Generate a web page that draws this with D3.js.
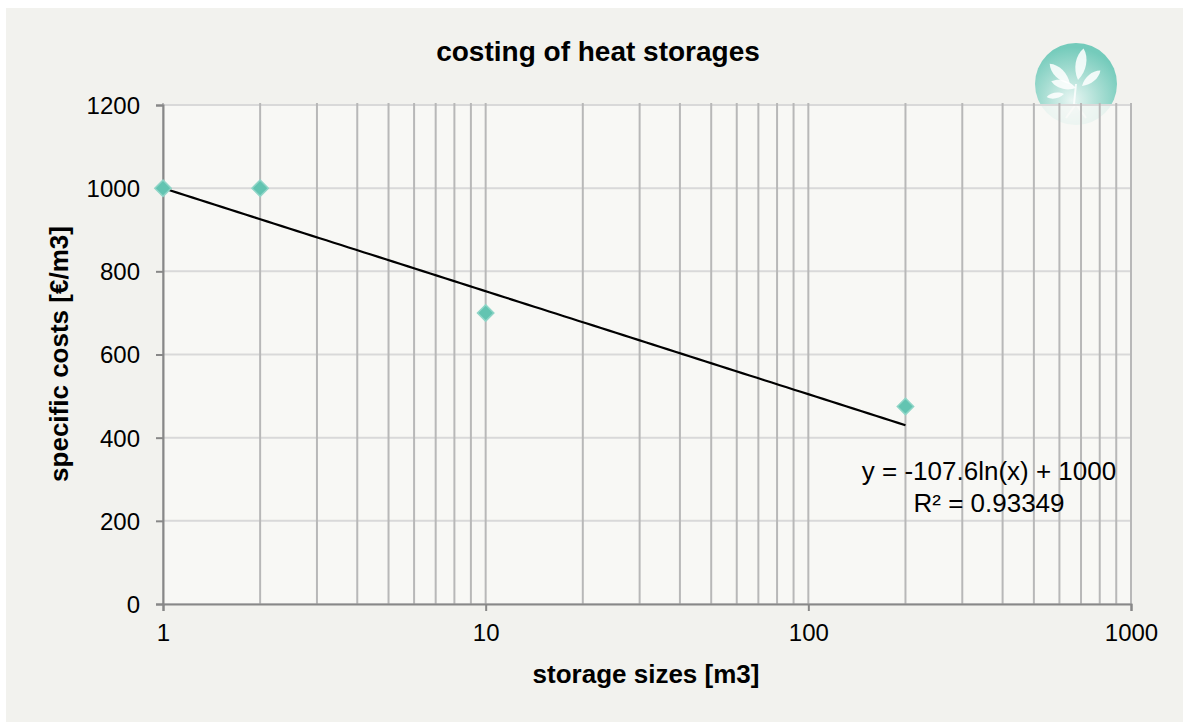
<!DOCTYPE html>
<html>
<head>
<meta charset="utf-8">
<script src="https://cdn.jsdelivr.net/npm/d3@7"></script>
<style>
  body { margin: 0; background: #ffffff; }
  text { font-family: "Liberation Sans", Arial, sans-serif; fill: #000; }
</style>
</head>
<body>
<script>
// data
var sizes = [1, 2, 10, 200];
var costs = [1000, 1000, 700, 475];
var yTicks = [0, 200, 400, 600, 800, 1000, 1200];
var xTicks = [1, 10, 100, 1000];
var trendA = -107.6, trendB = 1000;   // y = a ln(x) + b
var trendRange = [1, 200];
var trendText = ["y = -107.6ln(x) + 1000", "R\u00b2 = 0.93349"];

var W = 1183, H = 722;
var margin = {top: 105, right: 52, bottom: 118, left: 163},
    width = W - margin.left - margin.right,
    height = H - margin.top - margin.bottom;

var svg = d3.select("body").append("svg")
  .attr("width", W).attr("height", H);

// outer chart area
svg.append("rect")
  .attr("x", 6).attr("y", 8).attr("width", W - 6).attr("height", H - 8)
  .attr("fill", "#f2f2ee");

// logo (drawn under the plot area)
var defs = svg.append("defs");
var grad = defs.append("radialGradient").attr("id", "logoGrad")
  .attr("cx", "45%").attr("cy", "70%").attr("r", "65%");
grad.append("stop").attr("offset", "0%").attr("stop-color", "#e9f6f3");
grad.append("stop").attr("offset", "55%").attr("stop-color", "#a6ddd2");
grad.append("stop").attr("offset", "100%").attr("stop-color", "#74cbbb");

var logo = svg.append("g").attr("transform", "translate(1076,84)");
logo.append("circle").attr("r", 41).attr("fill", "url(#logoGrad)");
var leaf = "M0,0 C-7,-10 -7,-24 0,-32 C7,-24 7,-10 0,0 Z";
[[-6, 0, -45, 0.9], [2, -4, 10, 1.0], [0, 4, -75, 0.8], [6, 2, 50, 0.75], [-12, 10, -100, 0.55]].forEach(function(l) {
  logo.append("path").attr("d", leaf)
    .attr("transform", "translate(" + l[0] + "," + l[1] + ") rotate(" + l[2] + ") scale(" + l[3] + ")")
    .attr("fill", "#ffffff").attr("opacity", 0.85);
});
logo.append("path").attr("d", "M0,0 L-2,20 M0,20 L-10,34 M0,20 L10,34")
  .attr("stroke", "#ffffff").attr("stroke-width", 2).attr("fill", "none").attr("opacity", 0.8);

var g = svg.append("g")
  .attr("transform", "translate(" + margin.left + "," + margin.top + ")");

var x = d3.scaleLog().domain([1, 1000]).range([0, width]);
var y = d3.scaleLinear().domain([0, 1200]).range([height, 0]);

// plot background
g.append("rect").attr("width", width).attr("height", height)
  .attr("fill", "#f9f9f7").attr("opacity", 0.82);

// horizontal gridlines
g.selectAll(".hgrid").data(yTicks).enter().append("line")
  .attr("x1", 0).attr("x2", width)
  .attr("y1", function(d) { return y(d); }).attr("y2", function(d) { return y(d); })
  .attr("stroke", "#d9d9d9").attr("stroke-width", 2);

// vertical gridlines (major + minor of log scale)
g.selectAll(".vgrid").data(x.ticks()).enter().append("line")
  .attr("x1", function(d) { return x(d); }).attr("x2", function(d) { return x(d); })
  .attr("y1", -2).attr("y2", height)
  .attr("stroke", "#b8b8b8").attr("stroke-width", 2);

// axes
var yAxis = g.append("g")
  .call(d3.axisLeft(y).tickValues(yTicks).tickFormat(d3.format("d")).tickSize(7).tickPadding(16));
var xAxis = g.append("g").attr("transform", "translate(0," + height + ")")
  .call(d3.axisBottom(x).tickValues(xTicks).tickFormat(d3.format("d")).tickSize(7).tickPadding(13));
[yAxis, xAxis].forEach(function(a) {
  a.select(".domain").attr("stroke", "#888888").attr("stroke-width", 2);
  a.selectAll(".tick line").attr("stroke", "#888888").attr("stroke-width", 2);
  a.selectAll("text").style("font-size", "24px").style("font-family", "'Liberation Sans', Arial, sans-serif").attr("fill", "#000");
});
yAxis.selectAll("text").attr("dy", "0.35em");

// trendline
var trendPts = d3.range(0, 101).map(function(i) {
  var lx = Math.log(trendRange[0]) + (Math.log(trendRange[1]) - Math.log(trendRange[0])) * i / 100;
  var xv = Math.exp(lx);
  return [xv, trendA * Math.log(xv) + trendB];
});
g.append("path").datum(trendPts)
  .attr("d", d3.line().x(function(d) { return x(d[0]); }).y(function(d) { return y(d[1]); }))
  .attr("fill", "none").attr("stroke", "#000").attr("stroke-width", 2.2);

// markers
g.selectAll(".pt").data(sizes).enter().append("path")
  .attr("d", d3.symbol().type(d3.symbolDiamond2).size(170))
  .attr("transform", function(d, i) { return "translate(" + x(d) + "," + y(costs[i]) + ")"; })
  .attr("fill", "#62c4b1").attr("stroke", "#8fd5c7").attr("stroke-width", 1.5);

// trendline label
g.append("text").attr("x", 826).attr("y", 375).attr("text-anchor", "middle")
  .style("font-size", "26px").text(trendText[0]);
g.append("text").attr("x", 826).attr("y", 407).attr("text-anchor", "middle")
  .style("font-size", "26px").text(trendText[1]);

// titles
svg.append("text").attr("x", 598).attr("y", 61).attr("text-anchor", "middle")
  .style("font-size", "28px").style("font-weight", "bold").text("costing of heat storages");
svg.append("text").attr("x", 646).attr("y", 683).attr("text-anchor", "middle")
  .style("font-size", "26px").style("font-weight", "bold").text("storage sizes [m3]");
svg.append("text").attr("transform", "translate(68,354) rotate(-90)").attr("text-anchor", "middle")
  .style("font-size", "26px").style("font-weight", "bold").text("specific costs [\u20ac/m3]");
</script>
</body>
</html>
